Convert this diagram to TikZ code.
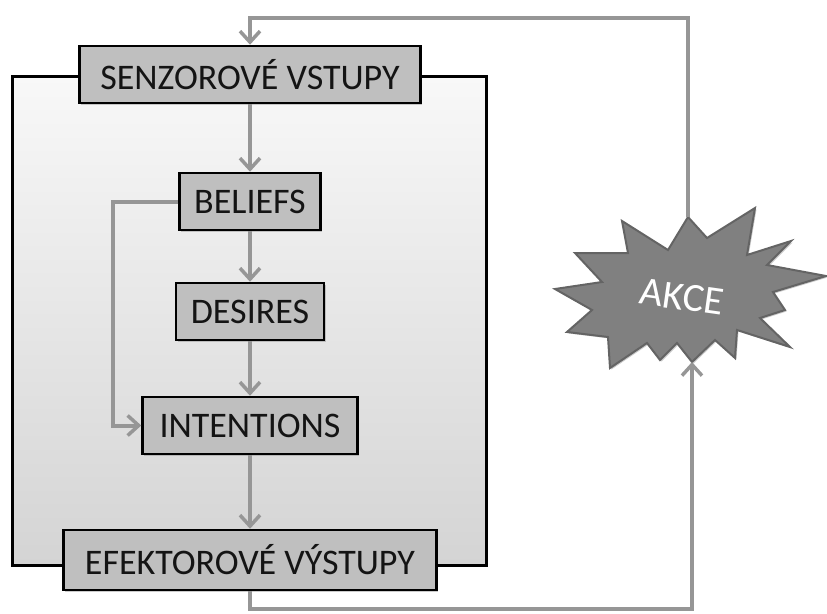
\documentclass[tikz,border=0pt]{standalone}
\usepackage{fontspec}
\setmainfont{Carlito}
\usetikzlibrary{arrows.meta,shadows}
\definecolor{linegray}{RGB}{150,150,150}
\definecolor{boxgray}{RGB}{191,191,191}
\definecolor{stargray}{RGB}{128,128,128}
\definecolor{starline}{RGB}{100,100,100}
\definecolor{agenttop}{RGB}{248,248,248}
\definecolor{agentbot}{RGB}{212,212,212}
\begin{document}
\begin{tikzpicture}[x=1pt,y=-1pt,
  softshadow/.style={drop shadow={shadow xshift=1.5pt,shadow yshift=-1.5pt,fill=black!45,opacity=0.45}},
  container/.style={draw=black, line width=3pt, top color=agenttop, bottom color=agentbot, inner sep=0pt, softshadow},
  stage/.style={draw=black, line width=2.5pt, fill=boxgray, minimum height=57pt, inner sep=0pt,
    font=\fontsize{36}{40}\selectfont, text=black!92, softshadow},
  flow/.style={draw=linegray, line width=4pt, -{Straight Barb[length=11pt,width=20pt,line width=3.5pt]}},
  burst/.style={fill=stargray, draw=starline, line width=2pt, line join=miter, softshadow},
]
\useasboundingbox (0,0) rectangle (827,613);

% agent container
\node[container, minimum width=474pt, minimum height=489pt] (agent) at (249,320.5) {};

% stages
\node[stage, minimum width=341pt] (senz) at (250,74.5) {SENZOROVÉ VSTUPY};
\node[stage, minimum width=141pt] (bel) at (250,201.5) {BELIEFS};
\node[stage, minimum width=148pt] (des) at (250,311.5) {DESIRES};
\node[stage, minimum width=215pt] (int) at (250,425.5) {INTENTIONS};
\node[stage, minimum width=373pt, minimum height=60pt] (efe) at (250,560) {EFEKTOROVÉ VÝSTUPY};

% action burst
\coordinate (akcetop) at (688,217);
\coordinate (akcebot) at (692,362);
\filldraw[burst] (akcetop) -- (707,238) -- (755,208) -- (747,255) -- (791,241) -- (767,265)
  -- (826,276) -- (773,292) -- (785,310) -- (760,318) -- (790,347) -- (737,330)
  -- (735,358) -- (715,340) -- (akcebot) -- (677,343) -- (660,360) -- (647,343)
  -- (610,368) -- (608,337) -- (567,332) -- (592,310) -- (555,289) -- (602,282)
  -- (575,253) -- (628,253) -- (622,221) -- (668,250) -- cycle;
\node[text=white, rotate=-8, font=\fontsize{40}{44}\selectfont] (akce) at (682,297) {AKCE};

% helper coordinates for the loops
\coordinate (topy) at (0,18);
\coordinate (boty) at (0,609);
\coordinate (leftx) at (113,0);

% connectors
\draw[flow] (senz.south) -- (bel.north);
\draw[flow] (bel.south) -- (des.north);
\draw[flow] (des.south) -- (int.north);
\draw[flow] (int.south) -- (efe.north);
\draw[flow] (bel.west) -| (leftx |- int.west) -- (int.west);
\draw[flow] (akcetop) -- (akcetop |- topy) -- (topy -| senz.north) -- (senz.north);
\draw[flow] (efe.south) -- (efe.south |- boty) -- (boty -| akcebot) -- (akcebot);
\end{tikzpicture}
\end{document}
